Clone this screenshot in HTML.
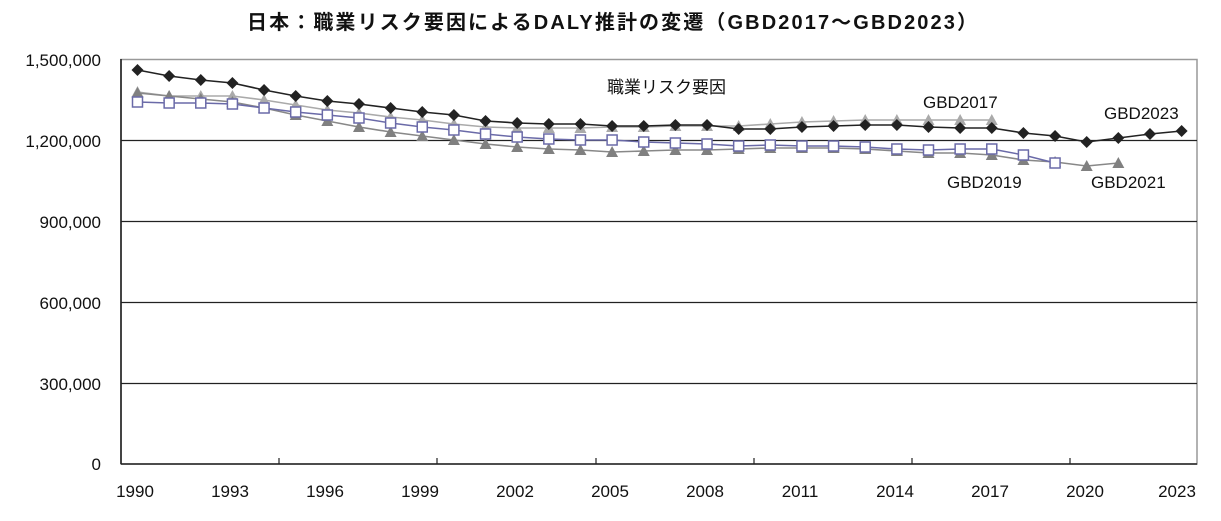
<!DOCTYPE html>
<html><head><meta charset="utf-8"><style>
body{margin:0;background:#fff;}
svg text{font-family:"Liberation Sans","Noto Sans CJK JP",sans-serif;fill:#111;}
</style></head><body>
<svg width="1221" height="516" viewBox="0 0 1221 516" xmlns="http://www.w3.org/2000/svg">
<text x="612" y="29" font-size="20" font-weight="bold" text-anchor="middle" textLength="730">日本：職業リスク要因によるDALY推計の変遷（GBD2017～GBD2023）</text>
<rect x="121" y="59.5" width="1076" height="404.5" fill="none" stroke="#999" stroke-width="1.5"/>
<g stroke="#222" stroke-width="1.2">
<line x1="121" y1="140.5" x2="1197" y2="140.5"/>
<line x1="121" y1="221.5" x2="1197" y2="221.5"/>
<line x1="121" y1="302.5" x2="1197" y2="302.5"/>
<line x1="121" y1="383.5" x2="1197" y2="383.5"/>
<line x1="121" y1="464" x2="1197" y2="464" stroke-width="1.6"/>
<line x1="121" y1="59" x2="121" y2="464" stroke-width="1.6"/>
<line x1="279" y1="458" x2="279" y2="464"/><line x1="437" y1="458" x2="437" y2="464"/><line x1="596" y1="458" x2="596" y2="464"/>
<line x1="754" y1="458" x2="754" y2="464"/><line x1="912" y1="458" x2="912" y2="464"/><line x1="1070" y1="458" x2="1070" y2="464"/>
</g>
<g font-size="17" text-anchor="end">
<text x="101" y="66">1,500,000</text><text x="101" y="147">1,200,000</text><text x="101" y="228">900,000</text>
<text x="101" y="309">600,000</text><text x="101" y="390">300,000</text><text x="101" y="470">0</text>
</g>
<g font-size="17" text-anchor="middle">
<text x="135" y="497">1990</text><text x="230" y="497">1993</text><text x="325" y="497">1996</text><text x="420" y="497">1999</text>
<text x="515" y="497">2002</text><text x="610" y="497">2005</text><text x="705" y="497">2008</text><text x="800" y="497">2011</text>
<text x="895" y="497">2014</text><text x="990" y="497">2017</text><text x="1085" y="497">2020</text><text x="1177" y="497">2023</text>
</g>
<g font-size="17">
<text x="607" y="93">職業リスク要因</text>
<text x="923" y="108">GBD2017</text>
<text x="1104" y="119">GBD2023</text>
<text x="947" y="188">GBD2019</text>
<text x="1091" y="188">GBD2021</text>
</g>
<g id="plot"></g>
</svg>
<script>
const X=i=>137.5+31.64*i;
const s23=[70,76,80,83,90,96,101,104,108,112,115,121,123,124,124,126,126,125,125,129,129,127,126,125,125,127,128,128,133,136,142,138,134,131];
const s17=[92,96,96,96,100,105,110,113,117,120,124,127,128,128,128,127,127,126,126,126,124,122,121,120,120,120,120,120];
const s19=[102,103,103,104,108,112,115,118,123,127,130,134,137,139,140,140,142,143,144,146,145,146,146,147,149,150,149,149,155,163];
const s21=[93,96,99,102,108,115,121,127,132,136,140,144,147,149,150,152,151,150,150,149,148,148,148,149,151,153,153,155,160,162,166,163];
const g=document.getElementById('plot');const NS='http://www.w3.org/2000/svg';
function el(t,a){const e=document.createElementNS(NS,t);for(const k in a)e.setAttribute(k,a[k]);g.appendChild(e);return e;}
function line(s,c,w){el('polyline',{points:s.map((y,i)=>X(i)+','+y).join(' '),fill:'none',stroke:c,'stroke-width':w});}
function tri(s,c){s.forEach((y,i)=>el('polygon',{points:`${X(i)},${y-6} ${X(i)-6},${y+5} ${X(i)+6},${y+5}`,fill:c}));}
line(s17,'#aaa',1.6);tri(s17,'#aaa');
line(s21,'#888',1.6);tri(s21,'#808080');
line(s19,'#6a6aa8',1.5);s19.forEach((y,i)=>el('rect',{x:X(i)-5,y:y-5,width:10,height:10,fill:'#fff',stroke:'#6a6aa8','stroke-width':1.5}));
line(s23,'#222',1.6);s23.forEach((y,i)=>el('polygon',{points:`${X(i)},${y-6} ${X(i)+6},${y} ${X(i)},${y+6} ${X(i)-6},${y}`,fill:'#222'}));
</script>
</body></html>
